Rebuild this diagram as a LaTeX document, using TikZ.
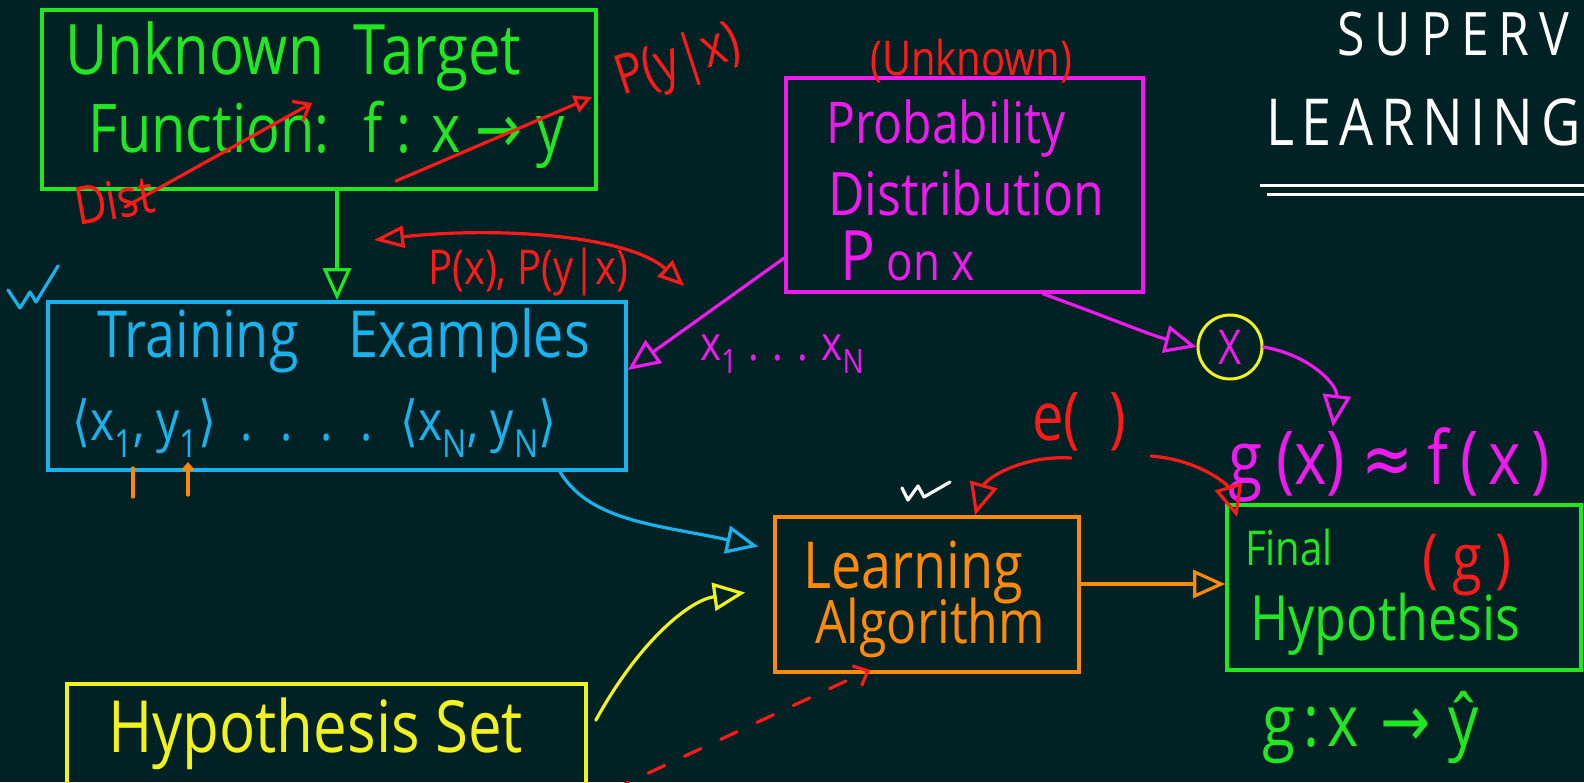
\documentclass[tikz,border=0pt]{standalone}
\usepackage{fontspec}
\setmainfont{Open Sans}
\newfontfamily\symfont{DejaVu Sans}
\usepackage{graphicx}
\usetikzlibrary{arrows.meta,positioning,calc}
\definecolor{boardBg}{HTML}{012225}
\definecolor{chalkGreen}{HTML}{22E622}
\definecolor{chalkRed}{HTML}{FF1A1A}
\definecolor{chalkMagenta}{HTML}{EE1AEE}
\definecolor{chalkBlue}{HTML}{1AB2EE}
\definecolor{chalkOrange}{HTML}{FF8A0A}
\definecolor{chalkYellow}{HTML}{F2F21E}
\newcommand{\hw}[1]{\scalebox{1}[1.2]{#1}}
\newcommand{\fs}[1]{\fontsize{#1}{#1}\selectfont}

\begin{document}
\begin{tikzpicture}[x=1pt,y=-1pt]
    \tikzset{
      frame/.style={draw, line width=3.6pt, inner sep=0pt},
      ink/.style={line width=3.2pt, line cap=round, line join=round},
      tip/.style={-{Triangle[open,length=32pt,width=28pt]}},
      barb/.style={-{Straight Barb[length=14pt,width=22pt]}},
      hand/.style={inner sep=0pt, anchor=base west}
    }

    % Board
    \fill[boardBg] (0,0) rectangle (1584,782);
    \useasboundingbox (0,0) rectangle (1584,782);
    \clip (0,0) rectangle (1584,782);

    % Boxes
    \node[frame, draw=chalkGreen, minimum width=554, minimum height=179] (target) at (319,99.5) {};
    \node[frame, draw=chalkMagenta, minimum width=357, minimum height=214] (prob) at (964.5,185) {};
    \node[frame, draw=chalkBlue, minimum width=578, minimum height=168] (training) at (337,386) {};
    \node[frame, draw=chalkOrange, minimum width=304, minimum height=155] (learn) at (927,594.5) {};
    \node[frame, draw=chalkGreen, minimum width=354, minimum height=165] (final) at (1404,587.5) {};
    \node[frame, draw=chalkYellow, minimum width=519, minimum height=166] (hypset) at (326.5,767) {};

    % Box texts
    \node[hand, text=chalkGreen, font=\fs{58}] (tgtA) at (65,74) {\hw{Unknown\ \ Target}};
    \node[hand, text=chalkGreen, font=\fs{56}] (tgtB) at (88,152) {\hw{Function: \ f : x {\symfont→} y}};
    \node[hand, text=chalkMagenta, font=\fs{48}] (probA) at (826,143) {\hw{Probability}};
    \node[hand, text=chalkMagenta, font=\fs{50}] (probB) at (828,215) {\hw{Distribution}};
    \node[hand, text=chalkMagenta, font=\fs{44}] (probC) at (840,280) {\hw{{\fs{58}P} on x}};
    \node[hand, text=chalkBlue, font=\fs{54}] (trainA) at (97,357) {\hw{Training\hspace{50pt}Examples}};
    \node[hand, text=chalkBlue, font=\fs{46}] (trainB) at (72,440) {\hw{{\symfont⟨}x\textsubscript{1}, y\textsubscript{1}{\symfont⟩} \ . \ . \ . \ . \ {\symfont⟨}x\textsubscript{N}, y\textsubscript{N}{\symfont⟩}}};
    \node[hand, text=chalkOrange, font=\fs{54}] (learnA) at (803,588) {\hw{Learning}};
    \node[hand, text=chalkOrange, font=\fs{50}] (learnB) at (815,643) {\hw{Algorithm}};
    \node[hand, text=chalkGreen, font=\fs{40}] (finalA) at (1245,565) {\hw{Final}};
    \node[hand, text=chalkRed, font=\fs{54}] (finalG) at (1422,580) {\hw{( g )}};
    \node[hand, text=chalkGreen, font=\fs{52}] (finalB) at (1250,640) {\hw{Hypothesis}};
    \node[hand, text=chalkYellow, font=\fs{60}] (hypA) at (108,752) {\hw{Hypothesis\ Set}};

    % Title
    \node[hand, text=white, font=\fs{50}\addfontfeature{LetterSpace=20}] (titleA) at (1337,55) {\hw{SUPERV}};
    \node[hand, text=white, font=\fs{54}\addfontfeature{LetterSpace=14}] (titleB) at (1266,145) {\hw{LEARNING}};
    \draw[white, line width=3pt] (1260,185) -- (1584,185);
    \draw[white, line width=3pt] (1267,194) -- (1584,194);

    % Labels
    \node[hand, text=chalkRed, font=\fs{44}, rotate=10] (dist) at (78,226) {\hw{Dist}};
    \node[hand, text=chalkRed, font=\fs{46}, rotate=18] (pyx) at (622,96) {\hw{P(y|x)}};
    \node[hand, text=chalkRed, font=\fs{40}] (unk) at (870,75) {\hw{(Unknown)}};
    \node[hand, text=chalkRed, font=\fs{40}] (pxlab) at (428,284) {\hw{P(x), P(y|x)}};
    \node[hand, text=chalkMagenta, font=\fs{40}] (xlab) at (700,360) {\hw{x\textsubscript{1} . . . x\textsubscript{N}}};
    \node[hand, text=chalkRed, font=\fs{56}] (elab) at (1032,440) {\hw{e( \ )}};
    \node[hand, text=chalkMagenta, font=\fs{62}] (gx) at (1228,484) {\hw{g\hspace{14pt}(x)\hspace{16pt}{\symfont≈}\hspace{14pt}f\hspace{12pt}(\,x\,)}};
    \node[hand, text=chalkGreen, font=\fs{60}] (gmap) at (1262,746) {\hw{g\hspace{8pt}:\hspace{8pt}x\hspace{22pt}{\symfont→}\hspace{18pt}\^{y}}};
    \node[circle, draw=chalkYellow, line width=3pt, minimum size=64, inner sep=0pt,
          text=chalkMagenta, font=\fs{40}] (xin) at (1230,347) {\hw{X}};

    % Red strokes across the target box
    \coordinate (distTail) at (125,207);
    \coordinate (fnHeadA) at (312,103);
    \coordinate (fnTailB) at (396,181);
    \coordinate (fnHeadB) at (592,97);
    \draw[ink, chalkRed, barb] (distTail) -- (fnHeadA);
    \draw[ink, chalkRed, -{Triangle[open,length=18pt,width=18pt]}] (fnTailB) -- (fnHeadB);

    % P(x), P(y|x) double arrow
    \coordinate (pxL) at (374,240);
    \coordinate (pxR) at (684,286);
    \draw[ink, chalkRed, {Triangle[open,length=30pt,width=22pt]}-{Triangle[open,length=26pt,width=22pt]}]
      (pxL) .. controls (500,226) and (630,236) .. (pxR);

    % Connectors
    \draw[ink, chalkGreen, tip] (target.south -| training.north) -- (training.north);
    \draw[ink, chalkMagenta, tip] (prob.west |- 0,258) -- (training.east |- 0,370);
    \draw[ink, chalkMagenta, tip] (prob.south -| 1043,0) .. controls (1110,318) and (1150,335) .. (xin.west);
    \draw[ink, chalkMagenta, tip] (xin.east) .. controls (1310,355) and (1338,385) .. (gx.north -| 1333,0);
    \draw[ink, chalkBlue, tip] (training.south -| 560,0) .. controls (590,522) and (660,525) .. ($(learn.west)+(-15,-48)$);
    \draw[ink, chalkYellow, tip] ($(hypset.north east)+(8,38)$) .. controls (640,640) and (690,600) .. ($(learn.west)+(-28,-2)$);
    \coordinate (dashTail) at (612,790);
    \draw[ink, chalkRed, dash pattern=on 18pt off 22pt, -{Straight Barb[length=12pt,width=22pt]}] (dashTail) -- ($(learn.south)+(-57,-4)$);
    \draw[ink, chalkOrange, tip] (learn.east |- 0,584) -- (final.west |- 0,584);
    \draw[ink, chalkRed, tip] ($(elab.base)+(-8,18)$) .. controls (1020,455) and (985,480) .. (learn.north -| 975,0);
    \draw[ink, chalkRed, tip] ($(elab.base)+(72,16)$) .. controls (1200,460) and (1228,485) .. ($(final.north west)+(12,14)$);

    % Ticks and marks
    \draw[ink, chalkBlue] (8,290) -- (20,308) -- (30,292) -- (36,302) -- (58,266);
    \draw[ink, white] (902,488) -- (908,500) -- (918,486) -- (924,497) -- (950,482);
    \draw[ink, chalkOrange] (133,468) -- (133,497);
    \draw[ink, chalkOrange, -{Straight Barb[length=6pt,width=10pt]}] (188,495) -- (188,462);
\end{tikzpicture}
\end{document}
